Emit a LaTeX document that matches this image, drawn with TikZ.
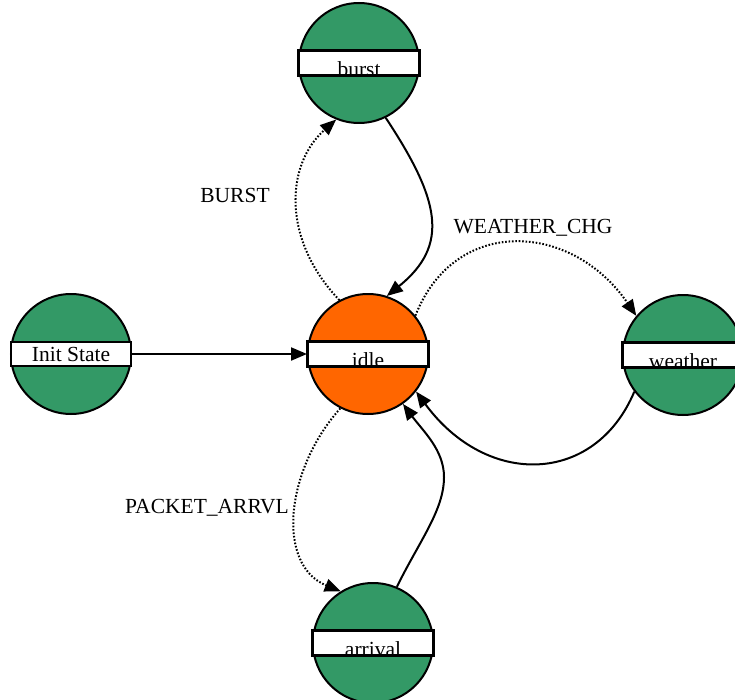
\documentclass[tikz,border=0pt]{standalone}
\usepackage{fontspec}
\setmainfont{Liberation Serif}
\usetikzlibrary{arrows.meta}
\definecolor{stategreen}{RGB}{51,153,102}
\definecolor{activeorange}{RGB}{255,102,0}

% white name bar across a state circle; the name sits on the bar's lower edge
\newcommand{\drawstatebar}[2]{%
  \node[namebar] (#1bar) at (#1) {};
  \begin{scope}
    \clip (#1bar.south west) rectangle (#1bar.north east);
    \node[anchor=base, inner sep=0pt] (#1name) at ([yshift=-0.5pt]#1bar.south) {#2};
  \end{scope}
  \draw[line width=1.6pt] (#1bar.south west) rectangle (#1bar.north east);
}

\begin{document}
\begin{tikzpicture}[x=1pt, y=-1pt,
  font=\fontsize{21.5}{25}\selectfont,
  statecircle/.style={circle, draw=black, line width=2pt, minimum size=120pt,
    inner sep=0pt, fill=stategreen},
  namebar/.style={draw=black, line width=1.6pt, fill=white, minimum width=120pt,
    minimum height=24pt, inner sep=0pt},
  trans/.style={line width=2pt, -{Triangle[length=16pt, width=13pt]}},
  dottrans/.style={trans, dash pattern=on 1.6pt off 1.8pt},
  edgelabel/.style={inner sep=0pt, anchor=base}
]
\path[use as bounding box] (0,0) rectangle (735,700);

% states
\node[statecircle] (burst) at (359,63) {};
\node[statecircle, fill=activeorange] (idle) at (368,354) {};
\node[statecircle] (init) at (71,354) {};
\node[statecircle] (weather) at (683,355) {};
\node[statecircle] (arrival) at (373,643) {};

\drawstatebar{burst}{burst}
\drawstatebar{idle}{idle}
\drawstatebar{weather}{weather}
\drawstatebar{arrival}{arrival}
\node[namebar] (initbar) at (init) {Init State};

% transitions
\draw[trans] (initbar.east) -- (idle.west);

\draw[dottrans] (idle.118) .. controls (282,240) and (285,165) .. (burst.248);
\draw[trans] (burst.296) .. controls (440,200) and (450,245) .. (idle.72);

\draw[dottrans] (idle.39) .. controls (455,215) and (572,222) .. (weather.140);
\draw[trans] (weather.217) .. controls (595,485) and (487,488) .. (idle.-38);

\draw[dottrans] (idle.243) .. controls (285,470) and (276,565) .. (arrival.122);
\draw[trans] (arrival.67) .. controls (420,540) and (444,510) .. (444,477)
  .. controls (444,450) and (423,431) .. (idle.-55);

% transition labels
\node[edgelabel] (lburst) at (235,203) {BURST};
\node[edgelabel] (lweather) at (533,234) {WEATHER\_CHG};
\node[edgelabel] (larrival) at (207,513) {PACKET\_ARRVL};
\end{tikzpicture}
\end{document}
